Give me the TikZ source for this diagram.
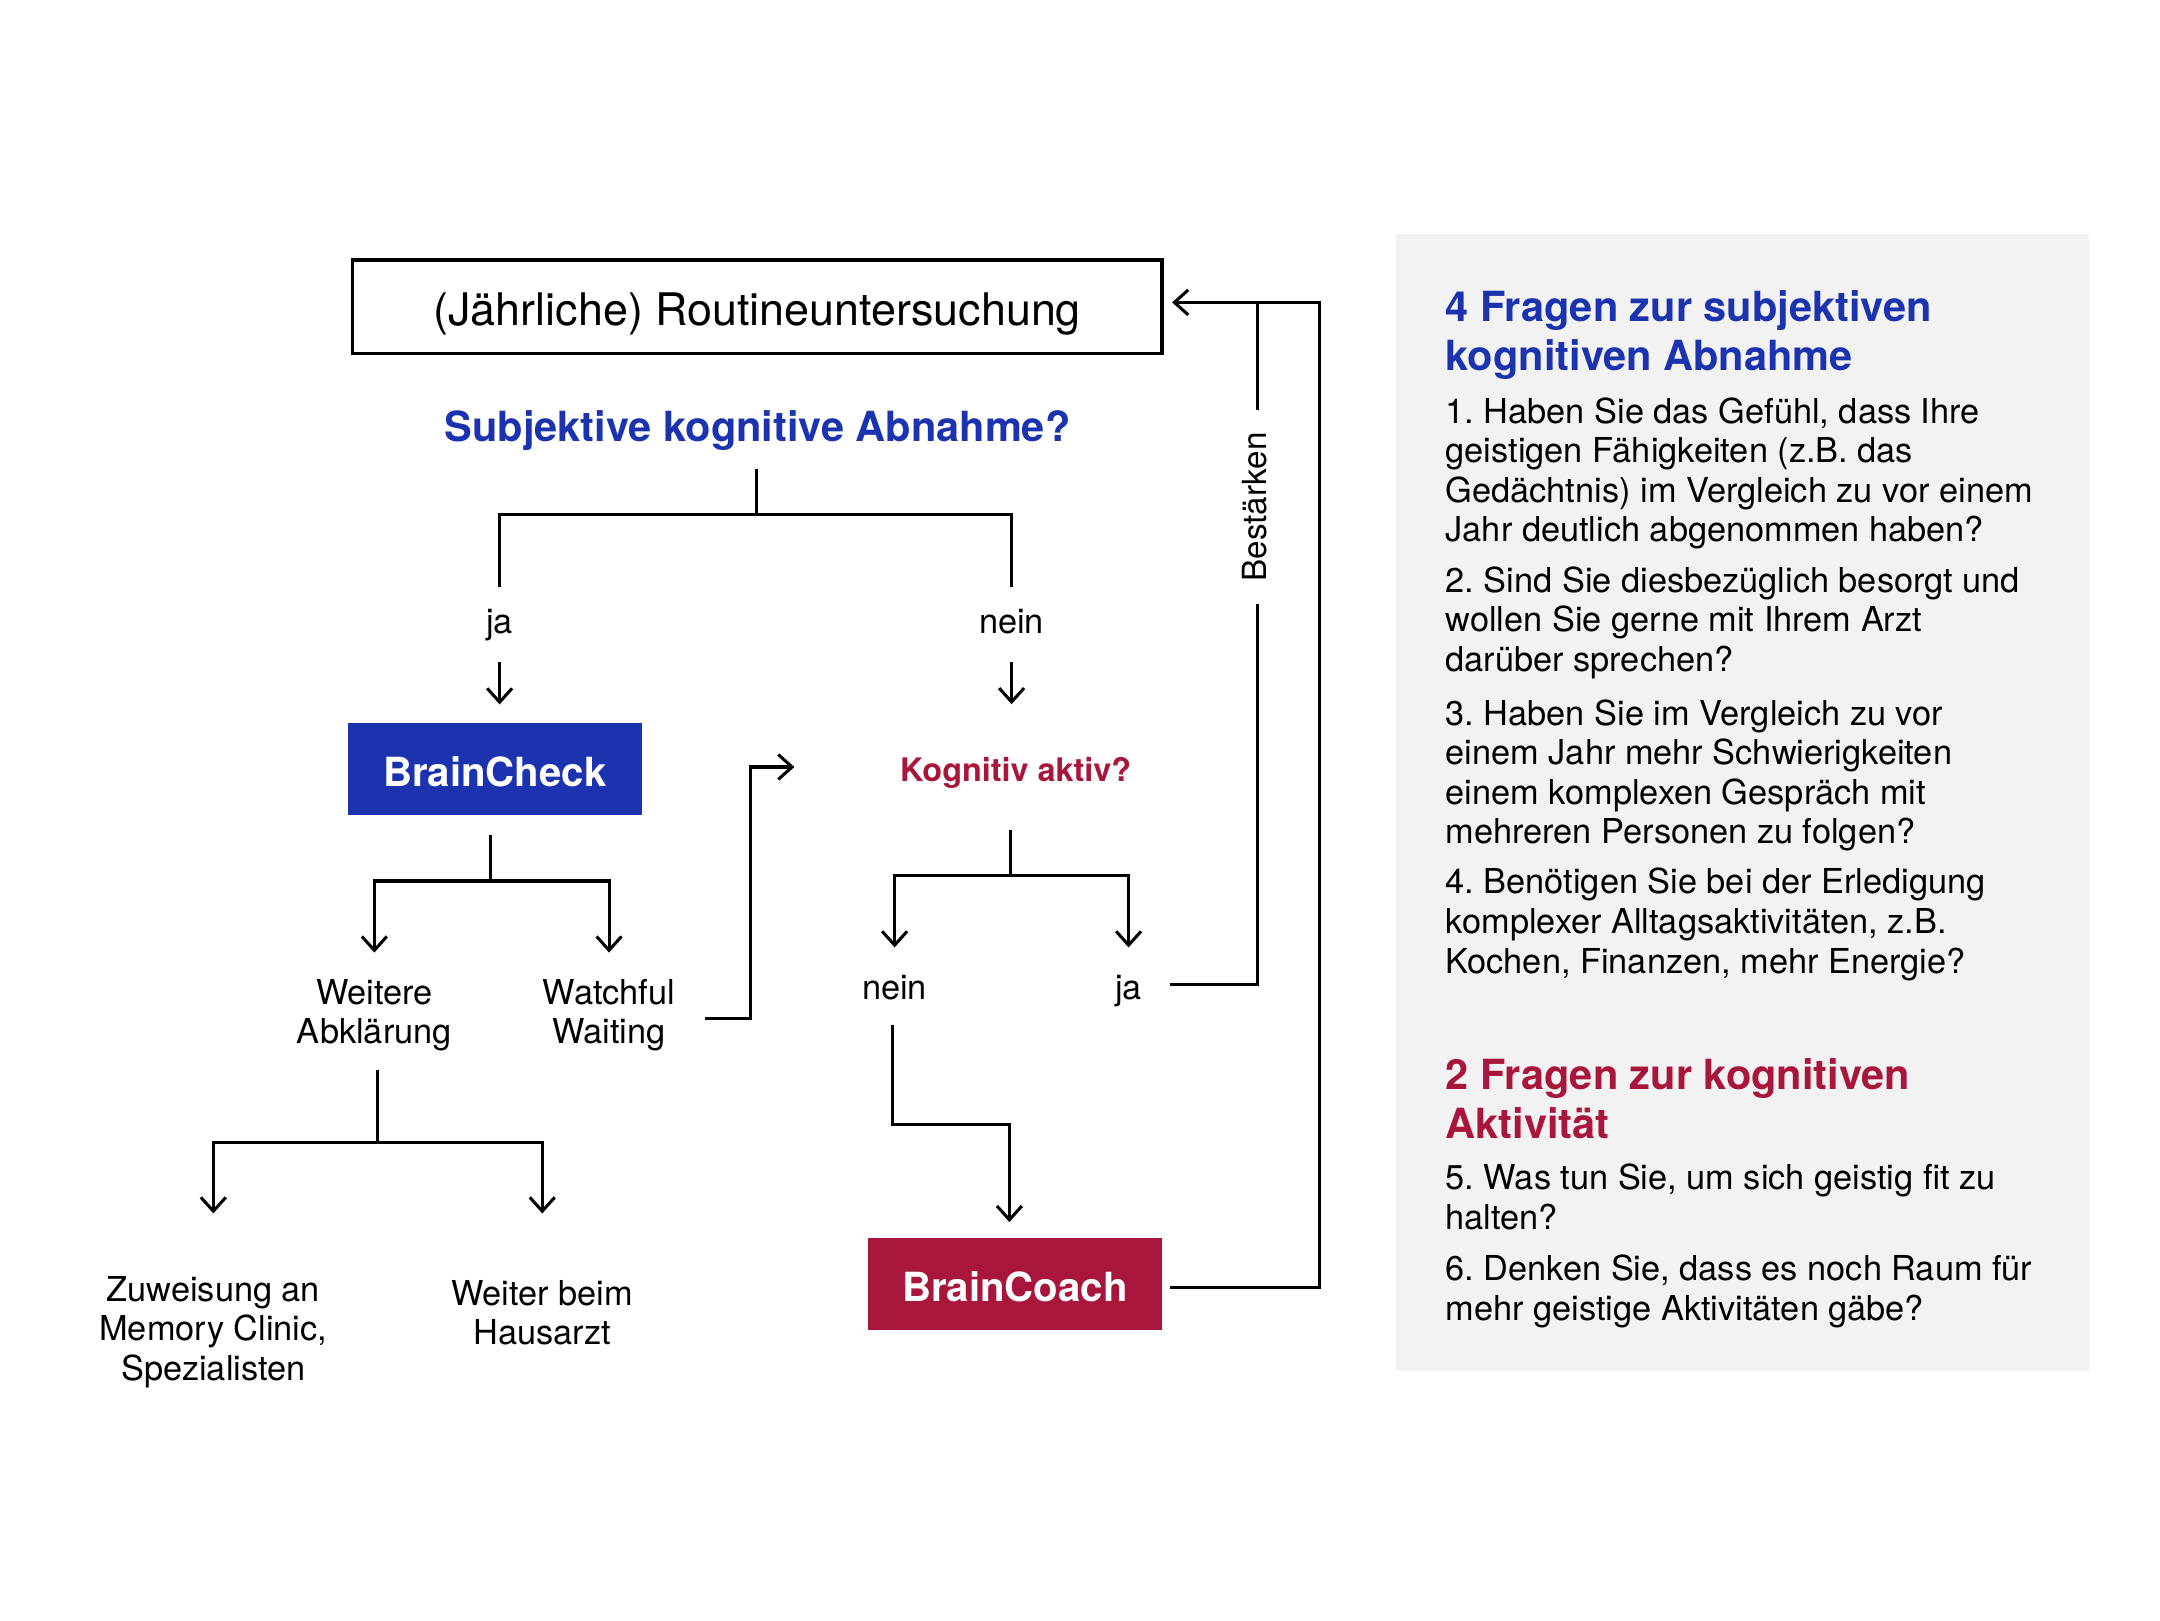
\documentclass[tikz,border=0pt]{standalone}
\usepackage{fontspec}
\setmainfont{TeX Gyre Heros}
\usetikzlibrary{arrows.meta,calc}
\definecolor{bblue}{HTML}{1C33B0}
\definecolor{bred}{HTML}{A8163C}
\definecolor{panel}{HTML}{F2F2F2}
\frenchspacing
\begin{document}
\begin{tikzpicture}[x=0.497pt,y=-0.497pt,
  ln/.style={line width=1.1pt},
  arr/.style={line width=1.1pt,-{Straight Barb[length=5pt,width=9pt]}},
  lbl/.style={font=\fontsize{12.4}{14.3}\selectfont,inner sep=0pt,text height=9pt,text depth=2.6pt,anchor=base},
  multi/.style={font=\fontsize{12.4}{14.3}\selectfont,inner sep=0pt,align=center,anchor=north},
  body/.style={font=\fontsize{12.4}{14.3}\selectfont,inner sep=0pt,align=left,anchor=north west},
  ptitle/.style={font=\fontsize{15}{17.8}\selectfont\bfseries,inner sep=0pt,align=left,anchor=north west},
  cbox/.style={minimum width=106pt,minimum height=33.2pt,inner sep=0pt,text=white,font=\fontsize{14.5}{17}\selectfont\bfseries,text height=13pt,text depth=0.2pt},
]
\useasboundingbox (0,0) rectangle (1569.4,1177.1);
\fill[panel] (1014,170) rectangle (1517.6,996);

% flow nodes
\node[draw,line width=1.2pt,minimum width=292.2pt,minimum height=33.7pt,inner sep=0pt,
  font=\fontsize{16.2}{19}\selectfont,text height=15.4pt,text depth=2pt] (routine) at (550.2,222.8) {(Jährliche) Routineuntersuchung};
\node[font=\fontsize{15}{18}\selectfont\bfseries,text=bblue,inner sep=0pt,text height=11pt,text depth=3.5pt,anchor=base] (q1) at (550.4,320.9) {Subjektive kognitive Abnahme?};
\node[lbl] (ja1) at (363,460.5) {ja};
\node[lbl] (nein1) at (735,460.5) {nein};
\node[cbox,fill=bblue] (bc) at (359.5,558.7) {BrainCheck};
\node[font=\fontsize{11.7}{14}\selectfont\bfseries,text=bred,inner sep=0pt,text height=8.5pt,text depth=2.5pt,anchor=base] (q2) at (738,567.6) {Kognitiv aktiv?};
\node[multi] (w1) at (272,709) {\rule{0pt}{10pt}Weitere\\Abklärung};
\node[multi] (w2) at (442.5,709) {\rule{0pt}{10pt}Watchful\\Waiting};
\node[lbl] (nein2) at (650,726) {nein};
\node[lbl] (ja2) at (820,726) {ja};
\node[multi] (z1) at (155,924.9) {\rule{0pt}{10pt}Zuweisung an\\Memory Clinic,\\Spezialisten};
\node[multi] (z2) at (394,927.9) {\rule{0pt}{10pt}Weiter beim\\Hausarzt};
\node[cbox,fill=bred] (coach) at (737.4,933) {BrainCoach};
\node[font=\fontsize{12}{14}\selectfont,inner xsep=8pt,inner ysep=0pt,text height=9pt,text depth=2.6pt,rotate=90,anchor=base] (best) at (920.3,368.3) {Bestärken};

% connectors
\draw[ln,shorten >=7.7pt] (q1.south) ++(-1,12.3) -- ++(0,33.4) -| (ja1.north);
\draw[ln,shorten >=7.7pt] (q1.south) ++(-1,12.3) -- ++(0,33.4) -| (nein1.north);
\draw[arr,shorten >=6.5pt] (ja1.south) ++(0,15) -- (ja1.south |- bc.north);
\draw[arr,shorten >=19.1pt] (nein1.south) ++(0,15) -- (nein1.south |- q2.north);
\draw[arr,shorten >=8.4pt] (bc.south) ++(-3,14.1) -- ++(0,33.5) -| (w1.north);
\draw[arr,shorten >=8.4pt] (bc.south) ++(-3,14.1) -- ++(0,33.5) -| (w2.north);
\draw[arr,shorten >=21.5pt] (w1.south) ++(2,13.1) -- ++(0,53) -| (z1.north);
\draw[arr,shorten >=23pt] (w1.south) ++(2,13.1) -- ++(0,53) -| (z2.north);
\draw[arr,shorten >=38pt] (w2.east) ++(21.6,3.2) -- ++(32.7,0) |- ($(q2.west)+(0,-4.3)$);
\draw[arr,shorten >=9.5pt] (q2.south) ++(-3.6,30) -- ++(0,33.2) -| (nein2.north);
\draw[arr,shorten >=9.5pt] (q2.south) ++(-3.6,30) -- ++(0,33.2) -| (ja2.north);
\draw[arr,shorten >=5.6pt] (nein2.south) ++(-1.2,12.8) -- ++(0,72.8) -| ($(coach.north)+(-4,0)$);
\draw[ln] (ja2.east) ++(20.1,-4.2) -| (best.west);
\draw[ln] (best.east) -- ($(best.east |- routine.east)+(0,-3.1)$);
\draw[arr,shorten >=3.1pt] (coach.east) ++(5.9,2.4) -- ++(108.6,0) |- ($(routine.east)+(0,-3.1)$);

% right panel
\node[ptitle,text=bblue] (t1) at (1050,208.9) {\rule{0pt}{12pt}4 Fragen zur subjektiven\\kognitiven Abnahme};
\node[body] (f1) at (1050,286.9) {\rule{0pt}{10pt}1. Haben Sie das Gefühl, dass Ihre\\geistigen Fähigkeiten (z.B. das\\Gedächtnis) im Vergleich zu vor einem\\Jahr deutlich abgenommen haben?};
\node[body] (f2) at (1050,409.8) {\rule{0pt}{10pt}2. Sind Sie diesbezüglich besorgt und\\wollen Sie gerne mit Ihrem Arzt\\darüber sprechen?};
\node[body] (f3) at (1050,506.3) {\rule{0pt}{10pt}3. Haben Sie im Vergleich zu vor\\einem Jahr mehr Schwierigkeiten\\einem komplexen Gespräch mit\\mehreren Personen zu folgen?};
\node[body] (f4) at (1050,629) {\rule{0pt}{10pt}4. Benötigen Sie bei der Erledigung\\komplexer Alltagsaktivitäten, z.B.\\Kochen, Finanzen, mehr Energie?};
\node[ptitle,text=bred] (t2) at (1050,766.7) {\rule{0pt}{12pt}2 Fragen zur kognitiven\\Aktivität};
\node[body] (f5) at (1050,843.7) {\rule{0pt}{10pt}5. Was tun Sie, um sich geistig fit zu\\halten?};
\node[body] (f6) at (1050,910.1) {\rule{0pt}{10pt}6. Denken Sie, dass es noch Raum für\\mehr geistige Aktivitäten gäbe?};
\end{tikzpicture}
\end{document}
